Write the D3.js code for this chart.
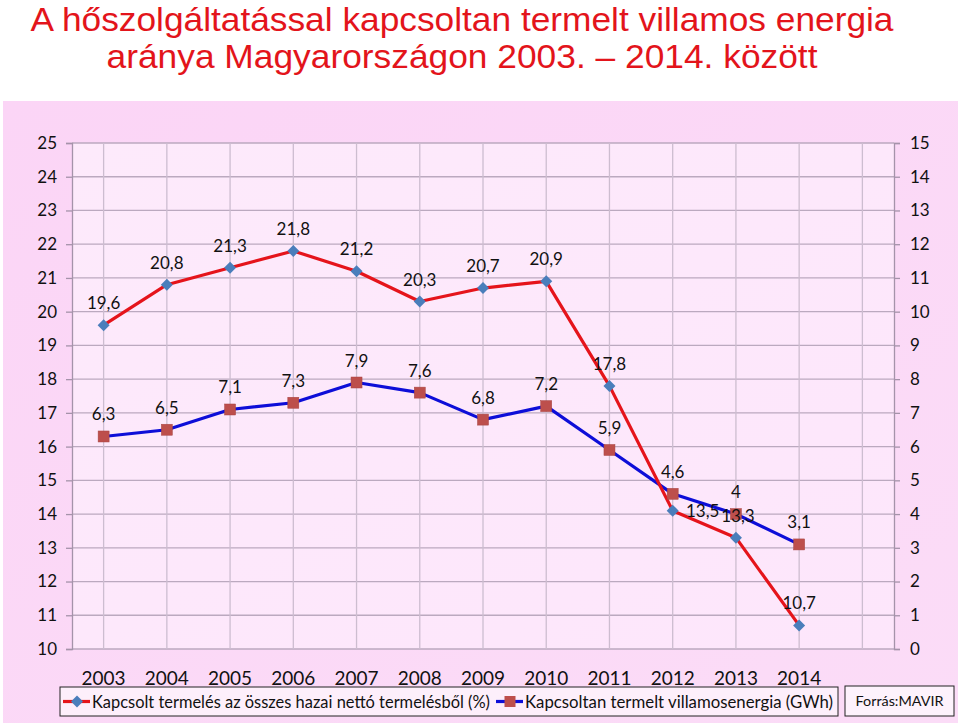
<!DOCTYPE html>
<html><head><meta charset="utf-8">
<script src="https://cdn.jsdelivr.net/npm/d3@7"></script>
<style>body{margin:0;background:#fff}svg{display:block}</style>
</head><body>
<script>
const years = ["2003","2004","2005","2006","2007","2008","2009","2010","2011","2012","2013","2014"];
// plotted positions as drawn in the picture (2012 point sits at ~14.1 though labelled 13,5)
const sharePct = [19.6,20.8,21.3,21.8,21.2,20.3,20.7,20.9,17.8,14.1,13.3,10.7];
const shareLabels = ["19,6","20,8","21,3","21,8","21,2","20,3","20,7","20,9","17,8","13,5","13,3","10,7"];
const energyGWh = [6.3,6.5,7.1,7.3,7.9,7.6,6.8,7.2,5.9,4.6,4,3.1];
const leftTicks = d3.range(10,26,1);
const rightTicks = d3.range(0,16,1);
const titleLines = ["A hőszolgáltatással kapcsoltan termelt villamos energia","aránya Magyarországon 2003. – 2014. között"];
const legendLabels = ["Kapcsolt termelés az összes hazai nettó termelésből (%)","Kapcsoltan termelt villamosenergia (GWh)"];
const sourceText = "Forrás:MAVIR";

const W=960,H=723;
const font = "Lato,'Open Sans',sans-serif";
const svg = d3.select("body").append("svg").attr("width",W).attr("height",H);
const defs = svg.append("defs");
const g1 = defs.append("linearGradient").attr("id","outer").attr("x1",0).attr("y1",0).attr("x2",1).attr("y2",1);
g1.append("stop").attr("offset","0%").attr("stop-color","#fbd5f6");
g1.append("stop").attr("offset","100%").attr("stop-color","#fbdcf7");
const g2 = defs.append("linearGradient").attr("id","inner").attr("x1",0).attr("y1",0).attr("x2",1).attr("y2",1);
g2.append("stop").attr("offset","0%").attr("stop-color","#fdeafb");
g2.append("stop").attr("offset","100%").attr("stop-color","#fde6fb");

svg.append("rect").attr("x",3).attr("y",101).attr("width",955).attr("height",622).attr("fill","url(#outer)");

// title
const titleLen=[863,711];
svg.selectAll("text.title").data(titleLines).join("text")
  .attr("x",462).attr("y",(d,i)=>31+i*37).attr("text-anchor","middle")
  .attr("font-family","'Liberation Sans',Arial,sans-serif").attr("font-size",33)
  .attr("textLength",(d,i)=>titleLen[i]).attr("lengthAdjust","spacingAndGlyphs")
  .attr("fill","#e3141b").text(d=>d);

const L=72,R=894,T=143,B=649;
const x = d3.scalePoint().domain(years.concat(["_"])).range([L,R]).padding(0.5);
const yL = d3.scaleLinear().domain([10,25]).range([B,T]);
const yR = d3.scaleLinear().domain([0,15]).range([B,T]);

svg.append("rect").attr("x",L).attr("y",T).attr("width",R-L).attr("height",B-T).attr("fill","url(#inner)");

const gridColor="#bba9bf";
svg.append("g").selectAll("line").data(leftTicks).join("line")
  .attr("x1",L).attr("x2",R).attr("y1",d=>yL(d)).attr("y2",d=>yL(d))
  .attr("stroke",gridColor).attr("stroke-width",1.3);
svg.append("g").selectAll("line").data(x.domain()).join("line")
  .attr("x1",d=>x(d)).attr("x2",d=>x(d)).attr("y1",T).attr("y2",B)
  .attr("stroke","#cdbdd0").attr("stroke-width",1.3);

const axL = svg.append("g").attr("transform",`translate(${L},0)`)
  .call(d3.axisLeft(yL).tickValues(leftTicks).tickSize(6).tickPadding(9).tickFormat(d3.format("d")));
const axR = svg.append("g").attr("transform",`translate(${R},0)`)
  .call(d3.axisRight(yR).tickValues(rightTicks).tickSize(6).tickPadding(10).tickFormat(d3.format("d")));
[axL,axR].forEach(a=>{
  a.select(".domain").attr("stroke","#a593aa").attr("stroke-width",1.3);
  a.selectAll(".tick line").attr("stroke","#a593aa").attr("stroke-width",1.3);
  a.selectAll(".tick text").attr("font-family",font).attr("font-size",17).attr("fill","#111");
});
svg.append("g").selectAll("text").data(years).join("text")
  .attr("x",d=>x(d)).attr("y",685).attr("text-anchor","middle")
  .attr("font-family",font).attr("font-size",19).attr("fill","#111").text(d=>d);

const lineL = d3.line().x((d,i)=>x(years[i])).y(d=>yL(d));
const lineR = d3.line().x((d,i)=>x(years[i])).y(d=>yR(d));
svg.append("path").attr("d",lineR(energyGWh)).attr("fill","none").attr("stroke","#0d0ed8").attr("stroke-width",3.2).attr("stroke-linejoin","round");
svg.append("path").attr("d",lineL(sharePct)).attr("fill","none").attr("stroke","#e5141b").attr("stroke-width",3.2).attr("stroke-linejoin","round");

const diamond = (cx,cy,s)=>`M${cx},${cy-s}L${cx+s},${cy}L${cx},${cy+s}L${cx-s},${cy}Z`;
svg.append("g").selectAll("path").data(sharePct).join("path")
  .attr("d",(d,i)=>diamond(x(years[i]),yL(d),6)).attr("fill","#4a7ebb");
svg.append("g").selectAll("rect").data(energyGWh).join("rect")
  .attr("x",(d,i)=>x(years[i])-5.5).attr("y",d=>yR(d)-5.5).attr("width",11).attr("height",11)
  .attr("fill","#bd4f4c").attr("stroke","#a84543").attr("stroke-width",0.5);

const fmt = v=>String(v).replace(".",",");
svg.append("g").selectAll("text").data(sharePct).join("text")
  .attr("x",(d,i)=>x(years[i]) + (i===9?30:(i===10?2:0)))
  .attr("y",(d,i)=>yL(d) + (i===9?6:-16)).attr("text-anchor","middle")
  .attr("font-family",font).attr("font-size",17).attr("fill","#111").text((d,i)=>shareLabels[i]);
svg.append("g").selectAll("text").data(energyGWh).join("text")
  .attr("x",(d,i)=>x(years[i])).attr("y",d=>yR(d)-16).attr("text-anchor","middle")
  .attr("font-family",font).attr("font-size",17).attr("fill","#111").text(fmt);

const lg = svg.append("g");
lg.append("rect").attr("x",60).attr("y",687).attr("width",778).attr("height",29).attr("fill","#fdeffb").attr("stroke","#222").attr("stroke-width",1);
lg.append("line").attr("x1",63).attr("x2",90).attr("y1",701.5).attr("y2",701.5).attr("stroke","#e5141b").attr("stroke-width",3.2);
lg.append("path").attr("d",diamond(77,701.5,6)).attr("fill","#4a7ebb");
lg.append("text").attr("x",92).attr("y",707.5).attr("font-family",font).attr("font-size",17)
  .attr("textLength",398).attr("lengthAdjust","spacingAndGlyphs").attr("fill","#111").text(legendLabels[0]);
lg.append("line").attr("x1",496).attr("x2",523).attr("y1",701.5).attr("y2",701.5).attr("stroke","#0d0ed8").attr("stroke-width",3.2);
lg.append("rect").attr("x",504.5).attr("y",696).attr("width",11).attr("height",11).attr("fill","#bd4f4c");
lg.append("text").attr("x",525).attr("y",707.5).attr("font-family",font).attr("font-size",17)
  .attr("textLength",308).attr("lengthAdjust","spacingAndGlyphs").attr("fill","#111").text(legendLabels[1]);

svg.append("rect").attr("x",845).attr("y",686).attr("width",109).attr("height",30).attr("fill","#fdf2fc").attr("stroke","#222").attr("stroke-width",1);
svg.append("text").attr("x",899.5).attr("y",706).attr("text-anchor","middle").attr("font-family",font).attr("font-size",14)
  .attr("textLength",88).attr("lengthAdjust","spacingAndGlyphs").attr("fill","#111").text(sourceText);
</script>
</body></html>
